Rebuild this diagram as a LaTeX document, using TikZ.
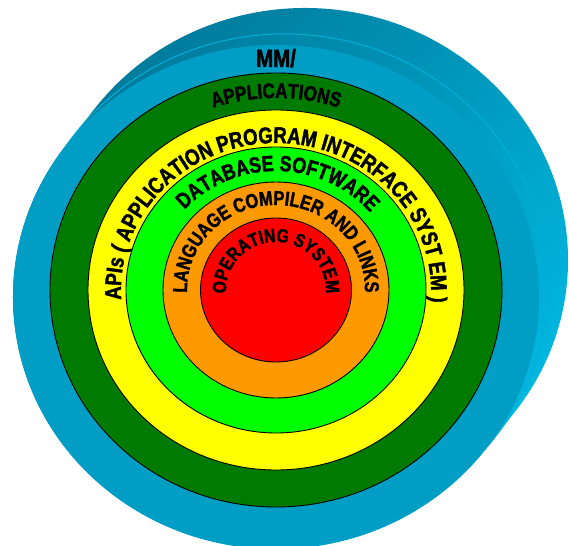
\documentclass[tikz,border=0pt]{standalone}
\usepackage{fontspec}
\newfontfamily\lbl{Liberation Sans}[FakeStretch=0.82, BoldFeatures={FakeBold=1.8}]
\usetikzlibrary{decorations.text}
\definecolor{frontblue}{RGB}{0,157,197}
\definecolor{sidedark}{RGB}{0,118,150}
\definecolor{sidelight}{RGB}{0,190,232}
\definecolor{rimline}{RGB}{0,176,216}
\definecolor{dkgreen}{RGB}{0,122,0}
\definecolor{ltgreen}{RGB}{0,255,0}
\definecolor{ylw}{RGB}{255,255,0}
\definecolor{orng}{RGB}{255,153,0}
\definecolor{rd}{RGB}{255,0,0}
\begin{document}
\begin{tikzpicture}[x=1pt,y=1pt,
  ring/.style={draw=black, line width=0.9pt},
  arctext/.style={decorate, decoration={text along path, text align=center}},
  lblfont/.style={font=\lbl\bfseries\fontsize{#1}{#1}\selectfont}]
\useasboundingbox (-276,-255) rectangle (293,290);
% cylinder side (hull of front and back faces)
\shade[top color=sidedark, bottom color=sidelight, shading angle=45]
  (0,-7) ++(143.1:263 and 252)
  arc[start angle=143.1, end angle=323.1, x radius=263, y radius=252]
  -- ++(29,37)
  arc[start angle=-36.9, end angle=143.1, x radius=263, y radius=252] -- cycle;
\draw[rimline, line width=1pt] (8.7,4.1) ellipse [x radius=263, y radius=252];
% front face
\fill[frontblue] (0,-7) ellipse [x radius=263, y radius=252];
% rings
\filldraw[fill=dkgreen, ring] (0,0) ellipse [x radius=226, y radius=217];
\filldraw[fill=ylw, ring] (0,0) ellipse [x radius=188, y radius=180];
\filldraw[fill=ltgreen, ring] (0,0) ellipse [x radius=150, y radius=143];
\filldraw[fill=orng, ring] (0,0) ellipse [x radius=113, y radius=108];
\filldraw[fill=rd, ring] (0,0) ellipse [x radius=75.5, y radius=72];
% labels
\node[lblfont=25, anchor=base, inner sep=0pt] (mm) at (0,223) {MM/};
\path[arctext, decoration={text={|\lbl\bfseries\fontsize{20.9}{20.9}\selectfont|APPLICATIONS}}]
  (160:200 and 192) arc[start angle=160, end angle=20, x radius=200, y radius=192];
\path[arctext, decoration={text={|\lbl\bfseries\fontsize{22.7}{22.7}\selectfont|APIs ( APPLICATION PROGRAM INTERFACE SYST EM )}}]
  (205:155 and 147) arc[start angle=205, end angle=-26, x radius=155, y radius=147];
\path[arctext, decoration={text={|\lbl\bfseries\fontsize{22}{22}\selectfont|DATABASE SOFTWARE}}]
  (160:124 and 119) arc[start angle=160, end angle=18, x radius=124, y radius=119];
\path[arctext, decoration={text={|\lbl\bfseries\fontsize{20}{20}\selectfont|LANGUAGE COMPILER AND LINKS}}]
  (200:89 and 85) arc[start angle=200, end angle=-20, x radius=89, y radius=85];
\path[arctext, decoration={text={|\lbl\bfseries\fontsize{19}{19}\selectfont|OPERATING SYSTEM}}]
  (215:50 and 48) arc[start angle=215, end angle=-35, x radius=50, y radius=48];
\end{tikzpicture}
\end{document}
